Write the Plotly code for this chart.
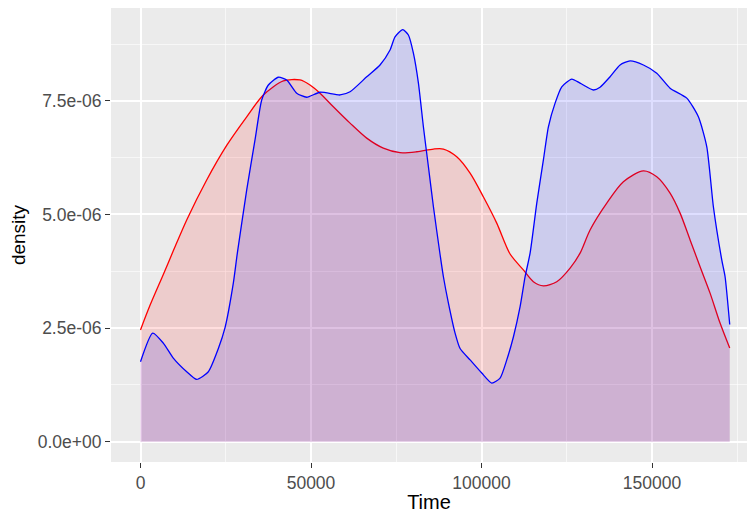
import plotly.graph_objects as go

# Class 0 (blue) density estimate
time_blue = [0, 3580, 6690, 9620, 13550, 16480, 19900, 22830, 24790, 27220, 28400,
             31150, 33580, 35540, 37500, 40420, 42880, 45810, 48740, 52650, 58510,
             61450, 66340, 70240, 73180, 74640, 76900, 78560, 80030, 81500, 82960,
             84430, 85900, 87850, 88830, 90300, 92250, 93720, 96650, 100080, 103010,
             105450, 107410, 109370, 111320, 112790, 114250, 116210, 118150, 119620,
             121580, 123540, 126470, 128910, 132820, 134770, 137700, 140640, 143570,
             147480, 151400, 155300, 160200, 163600, 166070, 168000, 170460, 171430,
             172792]
dens_blue = [1.76e-06, 2.39e-06, 2.17e-06, 1.84e-06, 1.54e-06, 1.37e-06, 1.54e-06, 2.05e-06,
             2.51e-06, 3.49e-06, 4.15e-06, 5.54e-06, 6.64e-06, 7.52e-06, 7.85e-06, 8.02e-06,
             7.96e-06, 7.67e-06, 7.58e-06, 7.69e-06, 7.63e-06, 7.70e-06, 8.03e-06, 8.29e-06,
             8.62e-06, 8.91e-06, 9.07e-06, 8.95e-06, 8.55e-06, 7.89e-06, 6.93e-06, 6.05e-06,
             5.17e-06, 4.12e-06, 3.63e-06, 3.05e-06, 2.39e-06, 2.05e-06, 1.80e-06, 1.51e-06,
             1.29e-06, 1.40e-06, 1.80e-06, 2.31e-06, 2.97e-06, 3.63e-06, 4.15e-06, 5.25e-06,
             6.20e-06, 6.93e-06, 7.45e-06, 7.81e-06, 7.98e-06, 7.89e-06, 7.74e-06, 7.80e-06,
             8.03e-06, 8.29e-06, 8.38e-06, 8.29e-06, 8.11e-06, 7.78e-06, 7.56e-06, 7.15e-06,
             6.49e-06, 5.17e-06, 4.00e-06, 3.63e-06, 2.58e-06]

# Class 1 (red) density estimate
time_red = [0, 2790, 6690, 9620, 13550, 19410, 25280, 31150, 36020, 41880, 46780, 49710,
            52650, 56550, 61450, 66340, 71210, 76100, 81000, 85900, 88830, 92740, 96650,
            100540, 104470, 108380, 112280, 115210, 118150, 122070, 125980, 128910, 131840,
            136740, 141610, 147480, 151400, 155300, 158240, 161170, 164100, 167030, 169960,
            172792]
dens_red = [2.46e-06, 3.00e-06, 3.68e-06, 4.20e-06, 4.88e-06, 5.76e-06, 6.52e-06, 7.15e-06,
            7.63e-06, 7.94e-06, 7.96e-06, 7.85e-06, 7.67e-06, 7.37e-06, 7.01e-06, 6.68e-06,
            6.46e-06, 6.36e-06, 6.38e-06, 6.44e-06, 6.44e-06, 6.27e-06, 5.91e-06, 5.39e-06,
            4.81e-06, 4.13e-06, 3.78e-06, 3.52e-06, 3.43e-06, 3.52e-06, 3.82e-06, 4.15e-06,
            4.66e-06, 5.25e-06, 5.72e-06, 5.96e-06, 5.83e-06, 5.47e-06, 5.03e-06, 4.44e-06,
            3.85e-06, 3.27e-06, 2.61e-06, 2.06e-06]

x_tick_vals = [0, 50000, 100000, 150000]
x_tick_text = ["0", "50000", "100000", "150000"]
y_tick_vals = [0, 2.5e-06, 5.0e-06, 7.5e-06]
y_tick_text = ["0.0e+00", "2.5e-06", "5.0e-06", "7.5e-06"]

fig = go.Figure()
fig.add_trace(go.Scatter(x=time_red, y=dens_red, mode="lines", fill="tozeroy",
                         line=dict(color="red", width=1.3, shape="spline", smoothing=0.8),
                         fillcolor="rgba(255,0,0,0.13)", name="1"))
fig.add_trace(go.Scatter(x=time_blue, y=dens_blue, mode="lines", fill="tozeroy",
                         line=dict(color="blue", width=1.3, shape="spline", smoothing=0.6),
                         fillcolor="rgba(0,0,255,0.13)", name="0"))

fig.update_layout(
    width=747, height=513,
    margin=dict(l=111, r=0, t=8, b=51),
    paper_bgcolor="white", plot_bgcolor="#EBEBEB",
    showlegend=False,
    font=dict(family="Liberation Sans, Arial, sans-serif", color="#4D4D4D", size=17),
    xaxis=dict(range=[-8651, 177859], tickvals=x_tick_vals, ticktext=x_tick_text,
               showgrid=True, gridcolor="white", gridwidth=1.6, zeroline=False,
               ticks="outside", ticklen=5, tickcolor="#333333", tickwidth=1.3,
               tickfont=dict(size=17.5, color="#4D4D4D"),
               minor=dict(dtick=25000, tick0=0, showgrid=True, gridcolor="rgba(255,255,255,0.6)", gridwidth=0.8, ticks=""),
               title=dict(text="Time", font=dict(size=20, color="black"), standoff=5)),
    yaxis=dict(range=[-4.47e-07, 9.544e-06], tickvals=y_tick_vals, ticktext=y_tick_text,
               showgrid=True, gridcolor="white", gridwidth=1.6, zeroline=False,
               ticks="outside", ticklen=5, tickcolor="#333333", tickwidth=1.3,
               tickfont=dict(size=17.5, color="#4D4D4D"),
               minor=dict(dtick=1.25e-06, tick0=0, showgrid=True, gridcolor="rgba(255,255,255,0.6)", gridwidth=0.8, ticks=""),
               title=dict(text="density", font=dict(size=19, color="black"), standoff=7)),
)

fig.write_html("out.html")
